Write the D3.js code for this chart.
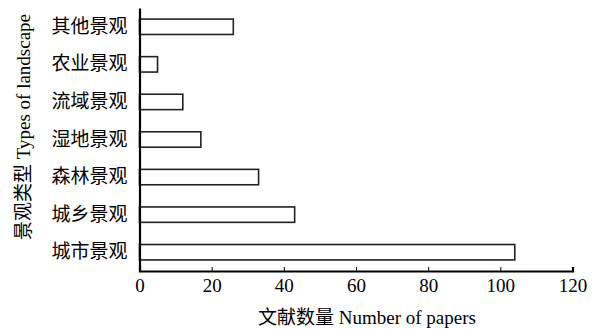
<!DOCTYPE html>
<html><head><meta charset="utf-8">
<script src="https://cdn.jsdelivr.net/npm/d3@7"></script>
<style>
body{margin:0;background:#fff;}
text{font-family:"Liberation Serif","Noto Sans CJK SC",serif;fill:#000;}
</style></head>
<body><svg id="c" width="596" height="329"></svg>
<script>
const categories = ["城市景观","城乡景观","森林景观","湿地景观","流域景观","农业景观","其他景观"];
const values = [104, 43, 33, 17, 12, 5, 26];
const xTicks = [0, 20, 40, 60, 80, 100, 120];
const xTitle = "文献数量 Number of papers";
const yTitle = "景观类型 Types of landscape";

const svg = d3.select("#c");
const L = 139.5, R = 572.5, T = 8, B = 271;
const x = d3.scaleLinear().domain([0,120]).range([L,R]);
const y = d3.scaleBand().domain(categories.slice().reverse()).range([T,B]).paddingInner(0.59).paddingOuter(0.295);

svg.selectAll("rect.bar").data(categories).enter().append("rect")
  .attr("class","bar")
  .attr("x", x(0))
  .attr("y", d => y(d))
  .attr("width", (d,i) => x(values[i]) - x(0))
  .attr("height", y.bandwidth())
  .attr("fill","#fff").attr("stroke","#222").attr("stroke-width",1.6);

// x axis
const xa = svg.append("g").attr("transform",`translate(0,${B})`)
  .call(d3.axisBottom(x).tickValues(xTicks).tickSize(-4).tickPadding(9).tickFormat(d3.format("d")));
xa.select(".domain").attr("stroke","#000").attr("stroke-width",2.2);
xa.selectAll(".tick line").attr("stroke","#000").attr("stroke-width",1);
xa.selectAll(".tick text").attr("font-size",19).attr("font-family","Liberation Serif").attr("dy","0.62em");

// y axis
const ya = svg.append("g").attr("transform",`translate(${L},0)`)
  .call(d3.axisLeft(y).tickSize(0).tickPadding(12));
ya.select(".domain").attr("stroke","#000").attr("stroke-width",2.2);
ya.selectAll(".tick text").attr("font-size",19).attr("font-family","Noto Sans CJK SC");

svg.append("text").attr("x",367).attr("y",324).attr("text-anchor","middle")
  .attr("font-size",19).text(xTitle);
svg.append("text").attr("transform","translate(30,127) rotate(-90)").attr("text-anchor","middle")
  .attr("font-size",19).text(yTitle);
</script></body></html>
